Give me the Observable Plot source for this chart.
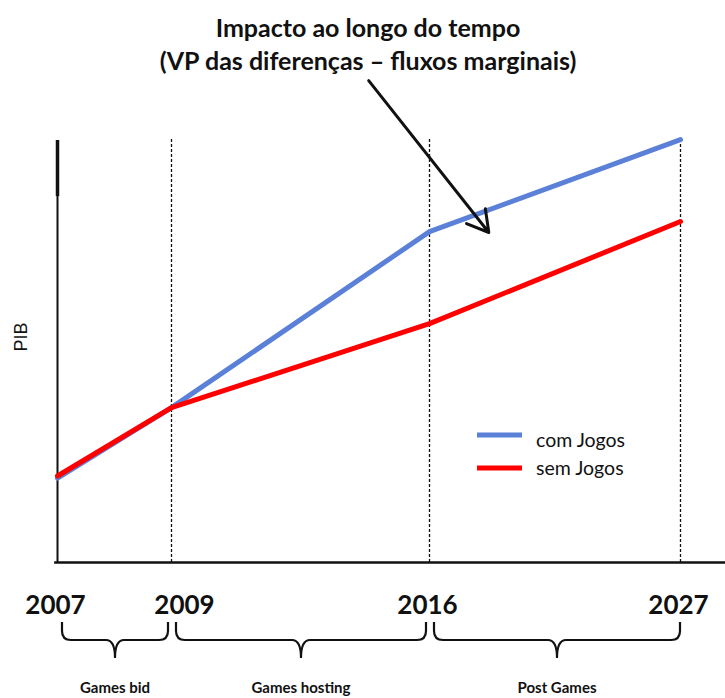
<!DOCTYPE html>
<html><head><meta charset="utf-8">
<script src="https://cdn.jsdelivr.net/npm/d3@7"></script>
<script src="https://cdn.jsdelivr.net/npm/@observablehq/plot@0.6"></script>
<style>body{margin:0;background:#fff} svg{display:block;overflow:visible}</style>
</head><body><div id="chart"></div>
<script>
// ---- data ----
const years = [2007, 2009, 2016, 2027];
const yearLabels = ["2007", "2009", "2016", "2027"];
const comJogos = [20, 36.7, 78.4, 100.2];
const semJogos = [20.5, 36.7, 56.6, 80.8];
const seriesNames = ["com Jogos", "sem Jogos"];
const seriesColors = ["#5b80d8", "#ff0000"];
const periodLabels = ["Games bid", "Games hosting", "Post Games"];
const periodStart = [2007, 2009, 2016];
const periodEnd = [2009, 2016, 2027];
const titleLines = ["Impacto ao longo do tempo", "(VP das diferenças – fluxos marginais)"];
const yLabel = "PIB";

const rowsCom = years.map((yr, i) => ({year: yr, pib: comJogos[i], serie: seriesNames[0]}));
const rowsSem = years.map((yr, i) => ({year: yr, pib: semJogos[i], serie: seriesNames[1]}));
const periods = periodLabels.map((l, i) => ({label: l, start: periodStart[i], end: periodEnd[i]}));

const sansC = "Lato, 'Open Sans', sans-serif";

// custom mark: braces + legend + y label + title
function decorations(index, scales, values, dims) {
  const g = d3.create("svg:g").attr("text-anchor", "start");
  const y0 = scales.y(0);
  // braces
  for (const p of periods) {
    const xa = scales.x(p.start) + 5, xb = scales.x(p.end) - (p.end === 2027 ? 0 : 3);
    const xm = (xa + xb) / 2;
    const top = y0 + 60, mid = y0 + 78, tip = y0 + 96, r = 9;
    const d = `M${xa},${top} L${xa},${mid - r} Q${xa},${mid} ${xa + r},${mid} L${xm - r},${mid} Q${xm},${mid} ${xm},${tip} ` +
              `M${xm},${tip} Q${xm},${mid} ${xm + r},${mid} L${xb - r},${mid} Q${xb},${mid} ${xb},${mid - r} L${xb},${top}`;
    g.append("path").attr("d", d).attr("fill", "none").attr("stroke", "#111").attr("stroke-width", 2.2);
    g.append("text").attr("x", xm).attr("y", y0 + 131).attr("text-anchor", "middle")
      .attr("font-family", sansC).attr("font-weight", "bold").attr("font-size", 15).attr("fill", "#111").text(p.label);
  }
  // legend
  const legendLineY = [435, 468], legendBase = [447, 475];
  seriesNames.forEach((name, i) => {
    g.append("line").attr("x1", 477).attr("x2", 522).attr("y1", legendLineY[i]).attr("y2", legendLineY[i])
      .attr("stroke", seriesColors[i]).attr("stroke-width", 5);
    g.append("text").attr("x", 536).attr("y", legendBase[i]).attr("text-anchor", "start").attr("font-family", sansC)
      .attr("font-size", 19.5).attr("fill", "#111").text(name);
  });
  // y label
  g.append("text").attr("transform", "translate(27,337) rotate(-90)").attr("text-anchor", "middle")
    .attr("font-family", "'Liberation Sans', Arial, sans-serif").attr("font-size", 18).attr("fill", "#111").text(yLabel);
  // title
  titleLines.forEach((t, i) => {
    g.append("text").attr("x", 368).attr("y", 37 + i * 33).attr("text-anchor", "middle")
      .attr("font-family", sansC).attr("font-weight", "bold").attr("font-size", 25).attr("fill", "#111").text(t);
  });
  return g.node();
}

const plot = Plot.plot({
  width: 725,
  height: 698,
  margin: 0,
  x: {type: "linear", domain: years, range: [57, 171, 429, 680], axis: null},
  y: {type: "linear", domain: [0, 100], range: [562, 140], axis: null},
  style: {background: "#fff", overflow: "visible"},
  marks: [
    Plot.ruleX(years.slice(1), {y1: 0, y2: 100.4, stroke: "#111", strokeWidth: 1.3, strokeDasharray: "3,2"}),
    Plot.ruleX([2007], {y1: 0, y2: 100, stroke: "#111", strokeWidth: 2}),
    Plot.ruleX([2007], {y1: 86.7, y2: 100, stroke: "#111", strokeWidth: 3.5}),
    Plot.ruleY([0], {x1: 2006.95, x2: 2029.1, stroke: "#111", strokeWidth: 2.5}),
    Plot.line(rowsCom, {x: "year", y: "pib", stroke: seriesColors[0], strokeWidth: 5}),
    Plot.line(rowsSem, {x: "year", y: "pib", stroke: seriesColors[1], strokeWidth: 5}),
    Plot.text(years.filter(y => y !== 2009), {x: d => d, y: 0, text: d => yearLabels[years.indexOf(d)], dy: 43, dx: -2,
      fontFamily: sansC, fontWeight: "bold", fontSize: 26, fill: "#111"}),
    Plot.text([2009], {x: d => d, y: 0, text: d => yearLabels[years.indexOf(d)], dy: 43, dx: 13,
      fontFamily: sansC, fontWeight: "bold", fontSize: 26, fill: "#111"}),
    Plot.arrow([{x1: 2014.35, y1: 114.2, x2: 2018.6, y2: 78.2}], {x1: "x1", y1: "y1", x2: "x2", y2: "y2",
      stroke: "#111", strokeWidth: 3, headLength: 12}),
    decorations
  ]
});
document.getElementById("chart").appendChild(plot);
</script></body></html>
